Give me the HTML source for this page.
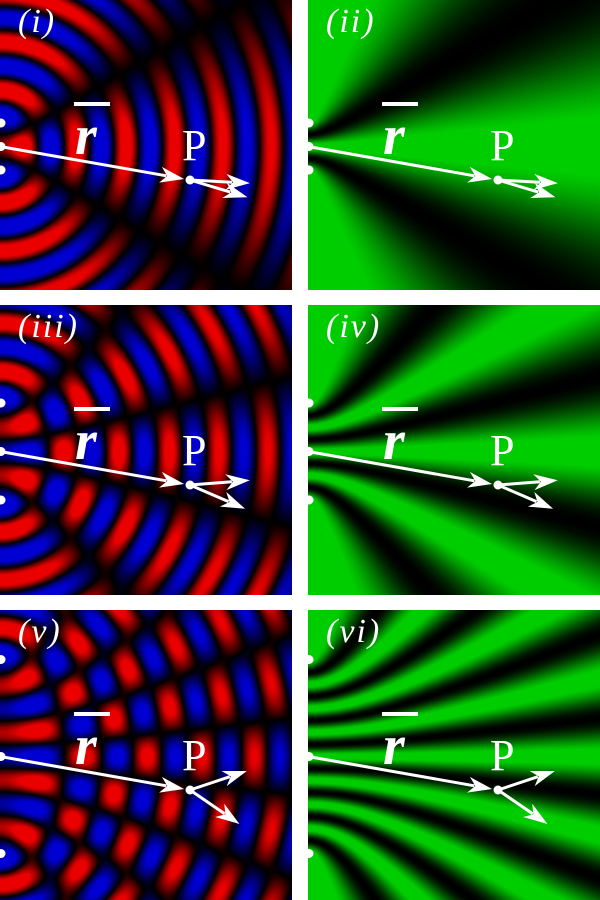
<!DOCTYPE html>
<html><head><meta charset="utf-8">
<style>
html,body{margin:0;padding:0;background:#fff;width:600px;height:900px;overflow:hidden}
.panel{position:absolute;width:292px;height:290px;overflow:hidden}
canvas{position:absolute;left:0;top:0}
svg{position:absolute;left:0;top:0}
.lbl{position:absolute;left:18px;top:3px;color:#fff;font:italic 34px "Liberation Serif","DejaVu Serif",serif;letter-spacing:2px;line-height:1.1}
.rr{position:absolute;left:75px;top:108px;color:#fff;font:italic bold 56px "Liberation Serif",serif;line-height:1}
.rbar{position:absolute;left:74px;top:102px;width:36px;height:4px;background:#fff}
.pp{position:absolute;left:182px;top:124px;color:#fff;font:44px "Liberation Serif",serif;line-height:1}
</style></head><body>
<div id="root"></div>
<script>
const panelLabels = ["(i)","(ii)","(iii)","(iv)","(v)","(vi)"];
const halfSeparations = [23.5, 48.5, 97];
const wavelength = 48;
const phaseOffset = 1.677;
const panelLefts = [0, 308];
const panelTops = [0, 305, 610];
const W = 292, H = 290, CY = 146.5, PX = 190, PY = 180;
const k = 2*Math.PI/wavelength;
const root = document.getElementById('root');
for (let row=0; row<3; row++){
  const d = halfSeparations[row];
  const srcs = [[0, CY-d],[0, CY+d]];
  for (let col=0; col<2; col++){
    const div = document.createElement('div');
    div.className='panel';
    div.style.left=panelLefts[col]+'px';
    div.style.top=panelTops[row]+'px';
    
    
    const cv=document.createElement('canvas');cv.width=W;cv.height=H;
    
    
    div.appendChild(cv);
    const ctx=cv.getContext('2d');const im=ctx.createImageData(W,H);
    for(let y=0;y<H;y++)for(let x=0;x<W;x++){
      let re=0,imv=0,re2=0,im2=0;
      for(const s of srcs){
        const r=Math.hypot(x+0.5-s[0],y+0.5-s[1]);
        const a=1/(1+r/500);
        const ph=k*r-2*Math.PI*phaseOffset;
        re+=a*Math.cos(ph);imv+=a*Math.sin(ph);
        re2+=Math.cos(ph);im2+=Math.sin(ph);
      }
      const i=(y*W+x)*4;
      if(col===0){
        const v=Math.max(-1,Math.min(1,re*0.8));
        im.data[i]=v>0?Math.round(235*v):0;
        im.data[i+1]=0;
        im.data[i+2]=v<0?Math.round(-210*v):0;
      } else {
        const I=(re2*re2+im2*im2)/4;
        im.data[i]=0;im.data[i+1]=Math.round(Math.min(1,I*1.1)*205);im.data[i+2]=0;
      }
      im.data[i+3]=255;
    }
    ctx.putImageData(im,0,0);
    const ns='http://www.w3.org/2000/svg';
    const svg=document.createElementNS(ns,'svg');svg.setAttribute('width',W);svg.setAttribute('height',H);
    let html='';
    for(const s of srcs) html+=`<circle cx="1" cy="${s[1]}" r="4.5" fill="#fff"/>`;
    html+=`<circle cx="1" cy="${CY}" r="4.5" fill="#fff"/>`;
    const arrow=(x1,y1,x2,y2)=>{
      const dx=x2-x1,dy=y2-y1,L=Math.hypot(dx,dy),ux=dx/L,uy=dy/L;
      const bx=x2-ux*24,by=y2-uy*24;
      return `<line x1="${x1}" y1="${y1}" x2="${bx+ux*6}" y2="${by+uy*6}" stroke="#fff" stroke-width="3"/>`+
      `<polygon points="${x2},${y2} ${bx-uy*8},${by+ux*8} ${bx+ux*7},${by+uy*7} ${bx+uy*8},${by-ux*8}" fill="#fff"/>`;
    };
    const L0=Math.hypot(PX,PY-CY);
    html+=arrow(0,CY,PX-(PX)/L0*6,PY-(PY-CY)/L0*6);
    for(const s of srcs){
      const dx=PX-s[0],dy=PY-s[1],L=Math.hypot(dx,dy);
      html+=arrow(PX,PY,PX+dx/L*60,PY+dy/L*60);
    }
    html+=`<circle cx="${PX}" cy="${PY}" r="4.5" fill="#fff"/>`;
    svg.innerHTML=html;
    
    
    div.appendChild(svg);
    const lb=document.createElement('div');lb.className='lbl';lb.textContent=panelLabels[row*2+col];
    
    
    div.appendChild(lb);
    const rb=document.createElement('div');rb.className='rbar';
    
    
    div.appendChild(rb);
    const rr=document.createElement('div');rr.className='rr';rr.textContent='r';
    
    
    div.appendChild(rr);
    const pp=document.createElement('div');pp.className='pp';pp.textContent='P';
    
    
    div.appendChild(pp);
    root.appendChild(div);
  }
}
</script>
</body></html>
